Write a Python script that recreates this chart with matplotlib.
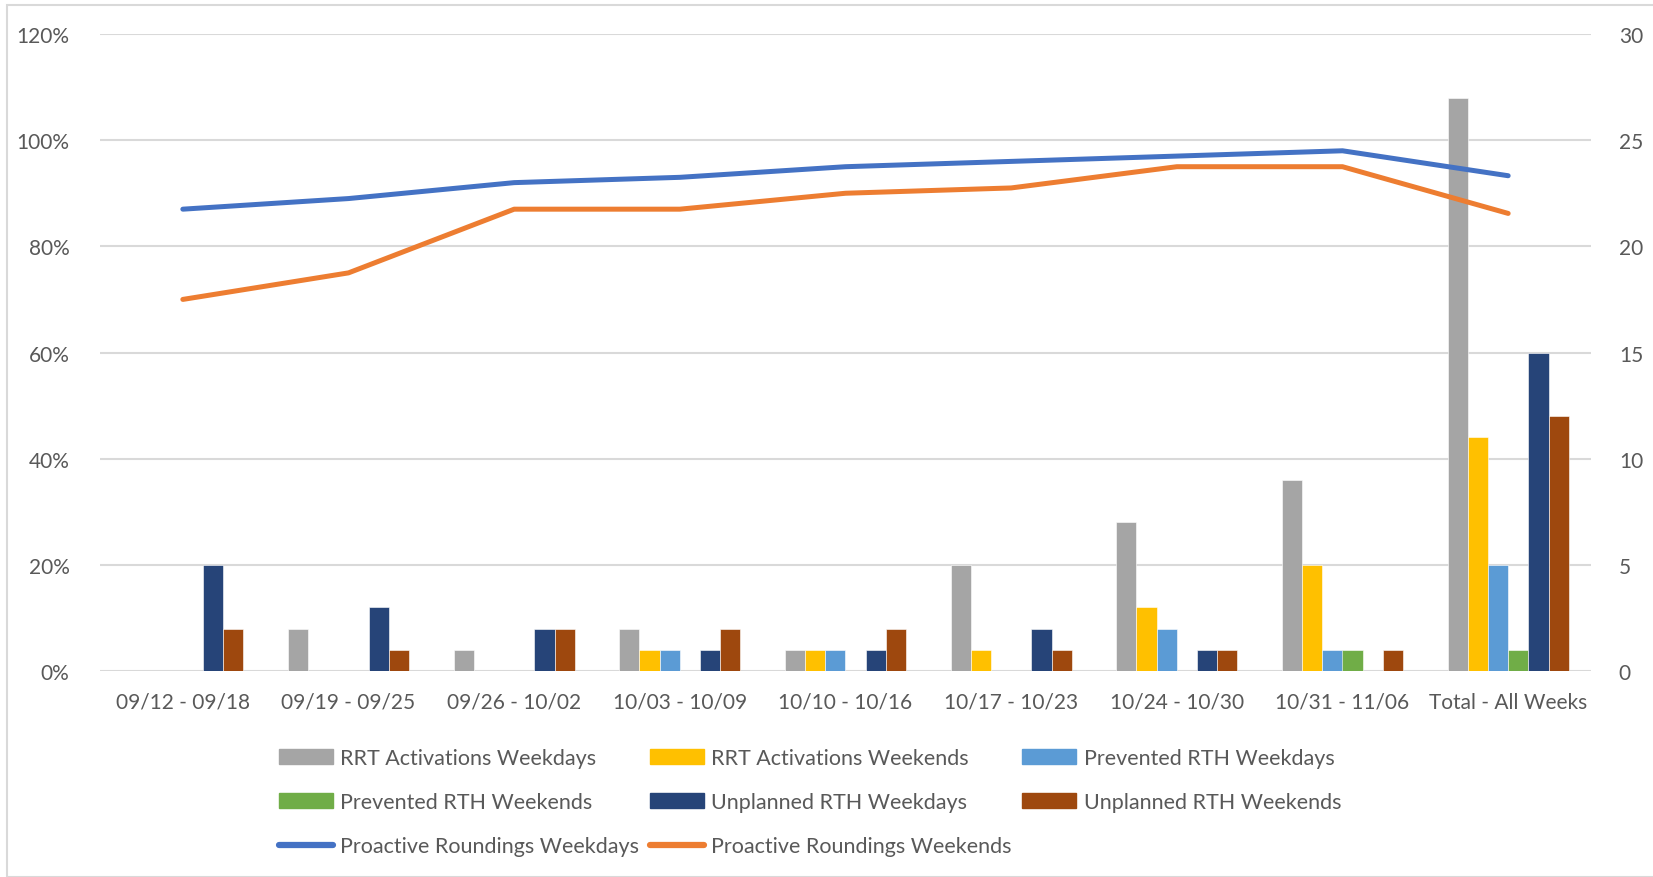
import numpy as np
import matplotlib.pyplot as plt
from matplotlib.patches import Rectangle
from matplotlib.lines import Line2D

plt.rcParams['font.family'] = ['Lato', 'DejaVu Sans']

weeks = ["09/12 - 09/18", "09/19 - 09/25", "09/26 - 10/02", "10/03 - 10/09",
         "10/10 - 10/16", "10/17 - 10/23", "10/24 - 10/30", "10/31 - 11/06",
         "Total - All Weeks"]

# counts (right axis)
rrt_weekdays = [0, 2, 1, 2, 1, 5, 7, 9, 27]
rrt_weekends = [0, 0, 0, 1, 1, 1, 3, 5, 11]
prevented_weekdays = [0, 0, 0, 1, 1, 0, 2, 1, 5]
prevented_weekends = [0, 0, 0, 0, 0, 0, 0, 1, 1]
unplanned_weekdays = [5, 3, 2, 1, 1, 2, 1, 0, 15]
unplanned_weekends = [2, 1, 2, 2, 2, 1, 1, 1, 12]

# rounding compliance (left axis, %)
rounding_weekdays = [87, 89, 92, 93, 95, 96, 97, 98, 93.3]
rounding_weekends = [70, 75, 87, 87, 90, 91, 95, 95, 86.2]

bar_series = [
    ("RRT Activations Weekdays", rrt_weekdays, "#A5A5A5"),
    ("RRT Activations Weekends", rrt_weekends, "#FFC000"),
    ("Prevented RTH Weekdays", prevented_weekdays, "#5B9BD5"),
    ("Prevented RTH Weekends", prevented_weekends, "#70AD47"),
    ("Unplanned RTH Weekdays", unplanned_weekdays, "#264478"),
    ("Unplanned RTH Weekends", unplanned_weekends, "#9E480E"),
]

W, H = 1653, 878
fig = plt.figure(figsize=(W / 100, H / 100), dpi=100)
ax = fig.add_axes([100 / W, 1 - 672 / H, (1591 - 100) / W, (672 - 35) / H])

text_color = "#595959"
grid_color = "#D9D9D9"
fs = 15

x = np.arange(len(weeks))
bw = 0.122
handles = {}
for i, (name, vals, color) in enumerate(bar_series):
    ax.bar(x + (i - 2.5) * bw, vals, width=bw, color=color,
           edgecolor="white", linewidth=0.4, zorder=2)
    handles[name] = Rectangle((0, 0), 1, 1, color=color)

ax.set_xlim(-0.5, len(weeks) - 0.5)
ax.set_ylim(0, 30)
ax.set_yticks(range(0, 31, 5))
ax.grid(axis="y", color=grid_color, linewidth=1.5, zorder=0)
ax.set_axisbelow(True)
ax.set_xticks(x)
ax.set_xticklabels(weeks)
for s in ax.spines.values():
    s.set_visible(False)

ax2 = ax.twinx()
# bars use the right-hand scale, lines the left-hand one
ax.yaxis.tick_right()
ax2.yaxis.tick_left()
ax.tick_params(axis="both", length=0, labelsize=fs, colors=text_color)
ax.tick_params(axis="x", pad=15)
ax.tick_params(axis="y", pad=20)

ax2.plot(x, rounding_weekdays, color="#4472C4", linewidth=3.6,
         solid_capstyle="round", solid_joinstyle="round", zorder=3)
ax2.plot(x, rounding_weekends, color="#ED7D31", linewidth=3.6,
         solid_capstyle="round", solid_joinstyle="round", zorder=3)
ax2.set_ylim(0, 120)
ax2.set_yticks(range(0, 121, 20))
ax2.set_yticklabels([f"{v}%" for v in range(0, 121, 20)])
ax2.tick_params(axis="y", length=0, labelsize=fs, colors=text_color, pad=22)
for s in ax2.spines.values():
    s.set_visible(False)

handles["Proactive Roundings Weekdays"] = Line2D([], [], color="#4472C4", linewidth=4.5,
                                                 solid_capstyle="round")
handles["Proactive Roundings Weekends"] = Line2D([], [], color="#ED7D31", linewidth=4.5,
                                                 solid_capstyle="round")

# column-major order so the legend reads row by row
order = ["RRT Activations Weekdays", "Prevented RTH Weekends", "Proactive Roundings Weekdays",
         "RRT Activations Weekends", "Unplanned RTH Weekdays", "Proactive Roundings Weekends",
         "Prevented RTH Weekdays", "Unplanned RTH Weekends"]
fig.legend([handles[k] for k in order], order, ncol=3, loc="center",
           bbox_to_anchor=(810 / W, 1 - 803 / H), frameon=False, fontsize=15.5,
           handlelength=2.5, handletextpad=0.35, columnspacing=0.5,
           labelspacing=1.12, labelcolor=text_color)

fig.patches.append(Rectangle((7 / W, 0), 2, 1 - 6 / H, transform=fig.transFigure,
                             fill=False, edgecolor=grid_color, linewidth=1.5))

fig.savefig("out.png", dpi=100)
